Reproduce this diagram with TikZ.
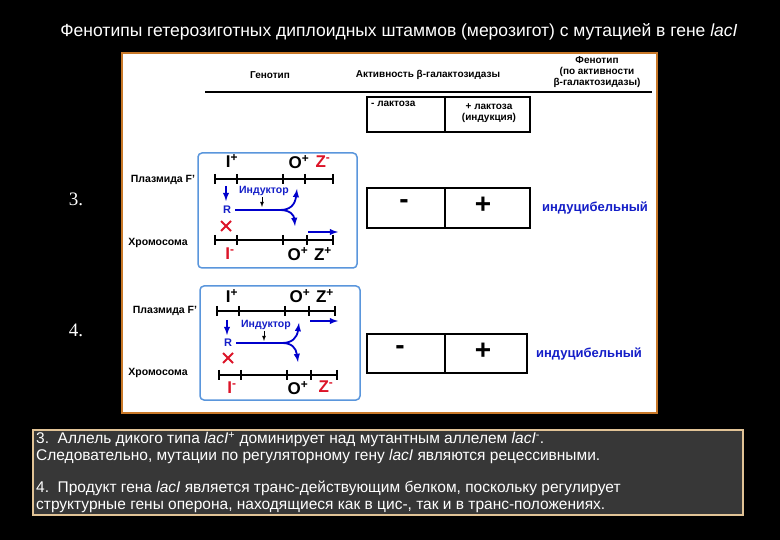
\documentclass[tikz,border=0pt]{standalone}
\usepackage{fontspec}
\usetikzlibrary{calc}
\setmainfont{Liberation Sans}
\newfontfamily\serifn{Liberation Serif}
\newcommand{\gp}{\textsuperscript{+}}
\newcommand{\gm}{\textsuperscript{-}}
\begin{document}
\begin{tikzpicture}[x=1pt,y=-1pt,
 lbl/.style={font=\bfseries\fontsize{10}{12}\selectfont,inner sep=0pt},
 sm/.style={font=\bfseries\fontsize{10.5}{10}\selectfont,inner sep=0pt},
 gene/.style={font=\bfseries\fontsize{17}{17}\selectfont,inner sep=0pt},
 dna/.style={line width=2.4pt},
 tk/.style={line width=1.2pt},
 blu/.style={draw=blue!80!black,line width=1.8pt},
 cell/.style={draw=black,line width=1.3pt},
 xx/.style={draw=tred,line width=1.8pt}]
\definecolor{panelb}{RGB}{200,120,40}
\definecolor{boxb}{RGB}{90,150,220}
\definecolor{tblue}{RGB}{20,30,200}
\definecolor{tred}{RGB}{220,20,40}
\useasboundingbox (0,0) rectangle (780,540);
\fill[black] (0,0) rectangle (780,540);
\node[text=white,font=\fontsize{17.5}{18}\selectfont] (title) at (399,32) {Фенотипы гетерозиготных диплоидных штаммов (мерозигот) с мутацией в гене \textit{lacI}};
\draw[panelb,line width=2pt,fill=white] (122,53) rectangle (657,413);
\node[lbl] (h1) at (270,75) {Генотип};
\node[lbl] (h2) at (428,75) {Активность β-галактозидазы};
\node[lbl,align=center,font=\bfseries\fontsize{10}{11}\selectfont] (h3) at (597,72) {Фенотип\\(по активности\\β-галактозидазы)};
\draw[line width=2pt] (205,92) -- (652,92);
\draw[cell] (367,97) rectangle (530,132); \draw[cell] (445,97) -- (445,132);
\node[lbl,anchor=north west] (m1) at (371,101) {- лактоза};
\node[lbl,align=center,font=\bfseries\fontsize{10}{11}\selectfont] (m2) at (489,113) {+ лактоза\\(индукция)};
% row 3
\node[text=white,font=\serifn\fontsize{19}{19}\selectfont] (n3) at (76,199) {3.};
\node[sm] (p3) at (163,180) {Плазмида F'};
\node[sm] (c3) at (158,243) {Хромосома};
\draw[boxb,line width=1.5pt,rounded corners=4pt] (198,153) rectangle (357,268);
\draw[dna] (215,179) -- (333,179);
\foreach \x in {215,237,283,305,333} \draw[tk] (\x,174) -- (\x,184);
\node[gene] (i3) at (232,161) {I\gp};
\node[gene] (o3) at (299,162) {O\gp};
\node[gene,text=tred] (z3) at (323,162) {Z\gm};
\draw[blu,-latex] (226,186) -- (226,201);
\node[sm,text=tblue] (ind3) at (264,191) {Индуктор};
\draw[-latex,thick] (262,197) -- (262,207);
\node[lbl,text=tblue,font=\bfseries\fontsize{11}{11}\selectfont] (r3) at (227,210) {R};
\draw[blu,-latex] (r3.east) ++(4,0) -- (280,210) .. controls (290,210) and (295,205) .. (297,189);
\draw[blu,-latex] (280,210) .. controls (290,210) and (294,215) .. (295,226);
\coordinate (x3) at (226,226);
\draw[xx] ($(x3)+(-5,-5)$) -- ($(x3)+(5,5)$) ($(x3)+(-5,5)$) -- ($(x3)+(5,-5)$);
\draw[dna] (215,240) -- (333,240);
\foreach \x in {215,237,283,307,333} \draw[tk] (\x,235) -- (\x,245);
\draw[blu,-latex] (308,232) -- (338,232);
\node[gene,text=tred] (ii3) at (230,254) {I\gm};
\node[gene] (oo3) at (298,254) {O\gp};
\node[gene] (zz3) at (323,254) {Z\gp};
\draw[cell] (367,188) rectangle (530,228); \draw[cell] (445,188) -- (445,228);
\node[font=\bfseries\fontsize{28}{28}\selectfont] (a3) at (404,204) {-};
\node[font=\bfseries\fontsize{28}{28}\selectfont] (b3) at (483,205) {+};
\node[lbl,text=tblue,font=\bfseries\fontsize{13}{13}\selectfont] (f3) at (595,208) {индуцибельный};
% row 4
\node[text=white,font=\serifn\fontsize{19}{19}\selectfont] (n4) at (76,330) {4.};
\node[sm] (p4) at (165,311) {Плазмида F'};
\node[sm] (c4) at (158,373) {Хромосома};
\draw[boxb,line width=1.5pt,rounded corners=4pt] (200,286) rectangle (360,400);
\draw[dna] (217,311) -- (335,311);
\foreach \x in {217,239,285,309,335} \draw[tk] (\x,306) -- (\x,316);
\node[gene] (i4) at (232,296) {I\gp};
\node[gene] (o4) at (300,296) {O\gp};
\node[gene] (z4) at (325,296) {Z\gp};
\draw[blu,-latex] (310,321) -- (338,321);
\draw[blu,-latex] (227,320) -- (227,335);
\node[sm,text=tblue] (ind4) at (266,325) {Индуктор};
\draw[-latex,thick] (264,331) -- (264,341);
\node[lbl,text=tblue,font=\bfseries\fontsize{11}{11}\selectfont] (r4) at (228,343) {R};
\draw[blu,-latex] (r4.east) ++(4,0) -- (282,343) .. controls (292,343) and (297,338) .. (299,323);
\draw[blu,-latex] (282,343) .. controls (292,343) and (296,348) .. (298,362);
\coordinate (x4) at (228,358);
\draw[xx] ($(x4)+(-5,-5)$) -- ($(x4)+(5,5)$) ($(x4)+(-5,5)$) -- ($(x4)+(5,-5)$);
\draw[dna] (219,375) -- (337,375);
\foreach \x in {219,241,287,311,337} \draw[tk] (\x,370) -- (\x,380);
\node[gene,text=tred] (ii4) at (232,388) {I\gm};
\node[gene] (oo4) at (298,388) {O\gp};
\node[gene,text=tred] (zz4) at (326,387) {Z\gm};
\draw[cell] (367,334) rectangle (527,373); \draw[cell] (445,334) -- (445,373);
\node[font=\bfseries\fontsize{28}{28}\selectfont] (a4) at (400,350) {-};
\node[font=\bfseries\fontsize{28}{28}\selectfont] (b4) at (483,351) {+};
\node[lbl,text=tblue,font=\bfseries\fontsize{13}{13}\selectfont] (f4) at (589,354) {индуцибельный};
% bottom
\draw[draw={rgb,255:red,225;green,195;blue,150},line width=1.5pt,fill={rgb,255:red,55;green,55;blue,55}] (33,430) rectangle (743,515);
\node[text=white,anchor=north west,align=left,inner sep=0pt,font=\fontsize{15.5}{17}\selectfont] (txt) at (36,432) {3.\ \ Аллель дикого типа \textit{lacI}\textsuperscript{+} доминирует над мутантным аллелем \textit{lacI}\textsuperscript{-}.\\Следовательно, мутации по регуляторному гену \textit{lacI} являются рецессивными.\\[15pt]4.\ \ Продукт гена \textit{lacI} является транс-действующим белком, поскольку регулирует\\структурные гены оперона, находящиеся как в цис-, так и в транс-положениях.};
\end{tikzpicture}
\end{document}
